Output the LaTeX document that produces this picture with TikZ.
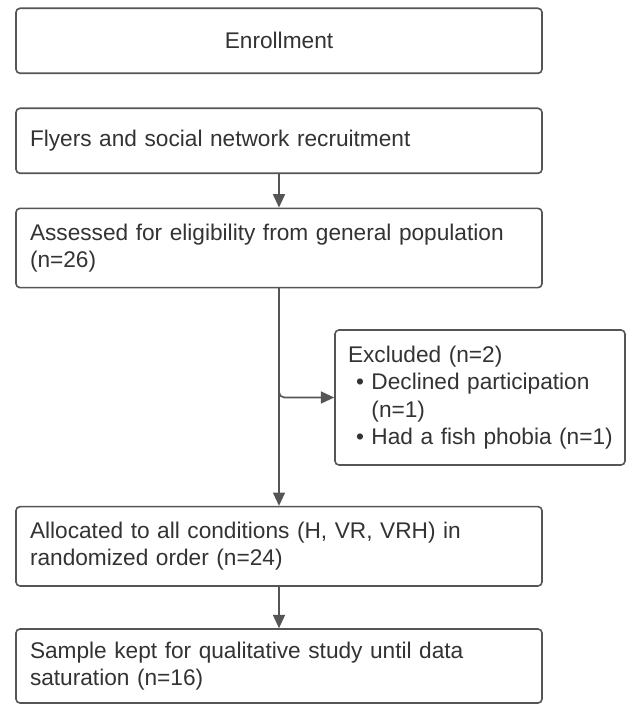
\documentclass[tikz,border=0pt]{standalone}
\usepackage{fontspec}
\setmainfont{Liberation Sans}
\usetikzlibrary{arrows.meta}
\definecolor{edge}{HTML}{555555}
\definecolor{ink}{HTML}{333333}
\tikzset{
  box/.style={draw=edge, line width=1.2pt, rounded corners=3pt, fill=white,
    text=ink, font=\fontsize{17}{20.6}\selectfont, inner ysep=0pt},
  mainbox/.style={box, minimum width=394.5pt, text width=373.5pt, inner xsep=10.5pt, align=left},
  conn/.style={draw=edge, line width=1.2pt, -{Triangle[length=10pt,width=9pt]}}
}
\begin{document}
\begin{tikzpicture}[x=0.75pt,y=-0.75pt]
\useasboundingbox[fill=white] (0,0) rectangle (626,705);
\node[mainbox, align=center, minimum height=48.75pt] (enroll) at (279,40.8) {Enrollment};
\node[mainbox, minimum height=48.75pt] (flyers) at (279,140.8) {Flyers and social network recruitment};
\node[mainbox, minimum height=59.5pt] (assess) at (279,248) {Assessed for eligibility from general population\\(n=26)};
\node[box, minimum width=217.5pt, text width=198pt, inner xsep=9.75pt, align=left, minimum height=101.25pt] (excl) at (480,397.5)
  {Excluded (n=2)\\
   \mbox{\hspace*{6pt}• Declined participation}\\
   \mbox{\hspace*{6pt}\phantom{• }(n=1)}\\
   \mbox{\hspace*{6pt}• Had a fish phobia (n=1)}};
\node[mainbox, minimum height=59.5pt] (alloc) at (279,546.3) {Allocated to all conditions (H, VR, VRH) in\\randomized order (n=24)};
\node[mainbox, minimum height=55.5pt] (sample) at (279,666) {Sample kept for qualitative study until data\\saturation (n=16)};
\draw[conn] (flyers) -- (assess);
\draw[conn] (assess) -- (alloc);
\draw[conn, rounded corners=4pt] (assess.south) |- (excl.west);
\draw[conn] (alloc) -- (sample);
\end{tikzpicture}
\end{document}
